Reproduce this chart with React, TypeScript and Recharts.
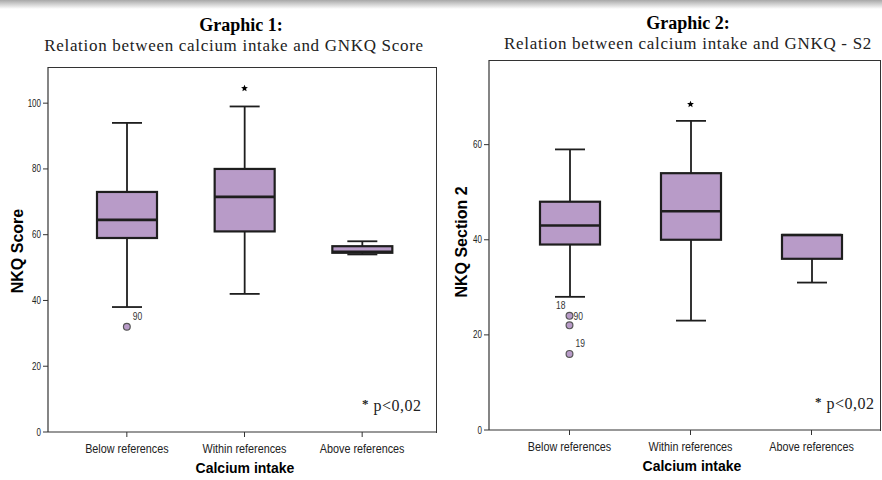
import React from 'react';
import { ComposedChart, Bar, Line, XAxis, YAxis } from 'recharts';

const CATEGORIES = ['Below references', 'Within references', 'Above references'];

// Graphic 1: GNKQ score
const G1_LOW = [38, 42, 54];
const G1_Q1 = [59, 61, 54.5];
const G1_MEDIAN = [64.5, 71.5, 54.8];
const G1_Q3 = [73, 80, 56.5];
const G1_HIGH = [94, 99, 58];
const G1_OUTLIERS = [[{ value: 32, id: '90' }], [], []];
const G1_EXTREMES = [null, 104.5, null];
const G1_TICKS = [0, 20, 40, 60, 80, 100];

// Graphic 2: GNKQ section 2
const G2_LOW = [28, 23, 31];
const G2_Q1 = [39, 40, 36];
const G2_MEDIAN = [43, 46, 41];
const G2_Q3 = [48, 54, 41];
const G2_HIGH = [59, 65, 41];
const G2_OUTLIERS = [
  [{ value: 24, id: '18' }, { value: 22, id: '90' }, { value: 16, id: '19' }],
  [],
  [],
];
const G2_EXTREMES = [null, 68.5, null];
const G2_TICKS = [0, 20, 40, 60];

const BOX_FILL = '#b89bc8';
const INK = '#1e1e1e';
const BOX_W = 60;
const CAP_W = 30;
const SERIF = '"Liberation Serif", "Times New Roman", serif';
const SANS = '"Liberation Sans", Arial, sans-serif';

// where each case-number label sits relative to its dot
const LABEL_OFFSET: Record<string, [number, number, 'start' | 'end']> = {
  'g1-90': [6, -7, 'start'],
  'g2-18': [-4, -7, 'end'],
  'g2-90': [4, -5, 'start'],
  'g2-19': [6, -7, 'start'],
};

type Outlier = { value: number; id: string };

function buildRows(
  low: number[], q1: number[], med: number[], q3: number[], high: number[],
  outliers: Outlier[][], extremes: (number | null)[]
) {
  return CATEGORIES.map((cat, i) => {
    const row: any = {
      cat,
      whisker: [low[i], high[i]],
      box: [q1[i], q3[i]],
      median: med[i],
      extreme: extremes[i],
    };
    for (let k = 0; k < 3; k++) {
      const o = outliers[i][k];
      row['out' + k] = o ? o.value : null;
      row['outId' + k] = o ? o.id : '';
    }
    return row;
  });
}

// condensed-looking tick text (SPSS uses a narrow sans)
const XTick = (props: any) => {
  const { x, y, payload } = props;
  return (
    <g transform={`translate(${x},${y})`}>
      <text transform="scale(0.8,1)" textAnchor="middle" dy="0.71em" fontSize={13.5} fontFamily={SANS} fill="#222">
        {payload.value}
      </text>
    </g>
  );
};

const YTick = (props: any) => {
  const { x, y, payload } = props;
  return (
    <g transform={`translate(${x},${y})`}>
      <text transform="scale(0.8,1)" textAnchor="end" dy="0.355em" fontSize={10} fontFamily={SANS} fill="#222">
        {payload.value}
      </text>
    </g>
  );
};

const WhiskerShape = (props: any) => {
  const { x, y, width, height } = props;
  if (y == null || height == null) return <g />;
  const cx = x + width / 2;
  return (
    <g stroke={INK} strokeWidth={1.8}>
      <line x1={cx} x2={cx} y1={y} y2={y + height} />
      <line x1={cx - CAP_W / 2} x2={cx + CAP_W / 2} y1={y} y2={y} />
      <line x1={cx - CAP_W / 2} x2={cx + CAP_W / 2} y1={y + height} y2={y + height} />
    </g>
  );
};

const BoxShape = (props: any) => {
  const { x, y, width, height } = props;
  if (y == null || height == null) return <g />;
  return <rect x={x} y={y} width={width} height={Math.max(height, 0.5)} fill={BOX_FILL} stroke={INK} strokeWidth={2.2} />;
};

const MedianDot = (props: any) => {
  const { cx, cy, index } = props;
  if (cy == null || isNaN(cy)) return <g key={'m' + index} />;
  return <line key={'m' + index} x1={cx - BOX_W / 2} x2={cx + BOX_W / 2} y1={cy} y2={cy} stroke={INK} strokeWidth={2.6} />;
};

const ExtremeDot = (props: any) => {
  const { cx, cy, index } = props;
  if (cy == null || isNaN(cy)) return <g key={'e' + index} />;
  const pts: string[] = [];
  for (let i = 0; i < 10; i++) {
    const r = i % 2 === 0 ? 3.6 : 1.6;
    const a = -Math.PI / 2 + (i * Math.PI) / 5;
    pts.push(`${cx + r * Math.cos(a)},${cy + r * Math.sin(a)}`);
  }
  return <polygon key={'e' + index} points={pts.join(' ')} fill="#000" />;
};

const makeOutlierDot = (k: number, prefix: string) => (props: any) => {
  const { cx, cy, index, payload } = props;
  if (cy == null || isNaN(cy) || payload['out' + k] == null) return <g key={'o' + k + index} />;
  const id = payload['outId' + k];
  const off = LABEL_OFFSET[prefix + '-' + id];
  return (
    <g key={'o' + k + index}>
      <circle cx={cx} cy={cy} r={3.4} fill={BOX_FILL} stroke="#555" strokeWidth={1.2} />
      {off && (
        <g transform={`translate(${cx + off[0]},${cy + off[1]})`}>
          <text transform="scale(0.85,1)" fontSize={10} fontFamily={SANS} fill="#333" textAnchor={off[2]}>
            {id}
          </text>
        </g>
      )}
    </g>
  );
};

interface PanelProps {
  prefix: string;
  rows: any[];
  left: number;
  domainMax: number;
  ticks: number[];
  margin: { top: number; right: number; bottom: number; left: number };
  padding: { left: number; right: number };
}

function BoxPanel({ prefix, rows, left, domainMax, ticks, margin, padding }: PanelProps) {
  const axisLine = { stroke: '#333', strokeWidth: 1.2 };
  const plotLeft = margin.left + 30;
  const plotRight = 441 - margin.right;
  const plotBottom = 480 - margin.bottom - 30;
  return (
    <div style={{ position: 'absolute', left, top: 0, width: 441, height: 480 }}>
      {/* top and right sides of the plot frame */}
      <div
        style={{
          position: 'absolute',
          left: plotLeft,
          top: margin.top,
          width: plotRight - plotLeft - 1,
          height: plotBottom - margin.top,
          borderTop: '1.2px solid #333',
          borderRight: '1.2px solid #333',
        }}
      />
      <div style={{ position: 'absolute', left: 0, top: 0 }}>
        <ComposedChart width={441} height={480} data={rows} margin={margin}>
          <XAxis
            xAxisId="main"
            dataKey="cat"
            type="category"
            padding={padding}
            height={30}
            axisLine={axisLine}
            tickLine={{ stroke: '#333' }}
            tickSize={5}
            tickMargin={6}
            tick={<XTick />}
            interval={0}
          />
          <XAxis xAxisId="whisk" dataKey="cat" type="category" padding={padding} hide />
          <YAxis
            yAxisId="y"
            type="number"
            domain={[0, domainMax]}
            ticks={ticks}
            width={30}
            axisLine={axisLine}
            tickLine={{ stroke: '#333' }}
            tickSize={5}
            tickMargin={2}
            tick={<YTick />}
          />
          <Bar xAxisId="whisk" yAxisId="y" dataKey="whisker" barSize={CAP_W} shape={<WhiskerShape />} isAnimationActive={false} />
          <Bar xAxisId="main" yAxisId="y" dataKey="box" barSize={BOX_W} shape={<BoxShape />} isAnimationActive={false} />
          <Line xAxisId="main" yAxisId="y" dataKey="median" stroke="none" dot={MedianDot} activeDot={false} isAnimationActive={false} />
          {[0, 1, 2].map((k) => (
            <Line
              key={k}
              xAxisId="main"
              yAxisId="y"
              dataKey={'out' + k}
              stroke="none"
              dot={makeOutlierDot(k, prefix)}
              activeDot={false}
              isAnimationActive={false}
            />
          ))}
          <Line xAxisId="main" yAxisId="y" dataKey="extreme" stroke="none" dot={ExtremeDot} activeDot={false} isAnimationActive={false} />
        </ComposedChart>
      </div>
    </div>
  );
}

const abs = (s: React.CSSProperties): React.CSSProperties => ({ position: 'absolute', whiteSpace: 'nowrap', ...s });

export default function App() {
  const rows1 = buildRows(G1_LOW, G1_Q1, G1_MEDIAN, G1_Q3, G1_HIGH, G1_OUTLIERS, G1_EXTREMES);
  const rows2 = buildRows(G2_LOW, G2_Q1, G2_MEDIAN, G2_Q3, G2_HIGH, G2_OUTLIERS, G2_EXTREMES);

  const title: React.CSSProperties = { fontFamily: SERIF, fontWeight: 'bold', fontSize: 18, color: '#000', textAlign: 'center' };
  const sub: React.CSSProperties = { fontFamily: SERIF, fontSize: 17, letterSpacing: 0.7, color: '#222', textAlign: 'center' };
  const xlab: React.CSSProperties = { fontFamily: SANS, fontWeight: 'bold', fontSize: 14, color: '#000', textAlign: 'center' };
  const ylab: React.CSSProperties = { fontFamily: SANS, fontWeight: 'bold', fontSize: 16, color: '#000', transform: 'translate(-50%, -50%) rotate(-90deg)' };
  const note: React.CSSProperties = { fontFamily: SERIF, fontSize: 16, letterSpacing: 0.5, color: '#222' };

  return (
    <div style={{ position: 'absolute', left: 0, top: 0, width: 882, height: 480, background: '#fff', overflow: 'hidden' }}>
      <div style={abs({ left: 0, top: 0, width: 882, height: 9, background: 'linear-gradient(#a8a8a8, #ffffff)' })} />

      <BoxPanel
        prefix="g1"
        rows={rows1}
        left={0}
        domainMax={111}
        ticks={G1_TICKS}
        margin={{ top: 67, right: 4, bottom: 18, left: 18 }}
        padding={{ left: 20, right: 16 }}
      />
      <BoxPanel
        prefix="g2"
        rows={rows2}
        left={441}
        domainMax={77.8}
        ticks={G2_TICKS}
        margin={{ top: 60, right: 1, bottom: 20, left: 18 }}
        padding={{ left: 20, right: 9 }}
      />

      <div style={abs({ ...title, left: 141, top: 15, width: 200 })}>Graphic 1:</div>
      <div style={abs({ ...sub, left: 34, top: 36, width: 400 })}>Relation between calcium intake and GNKQ Score</div>
      <div style={abs({ ...title, left: 588, top: 13, width: 200 })}>Graphic 2:</div>
      <div style={abs({ ...sub, left: 488, top: 34, width: 400 })}>Relation between calcium intake and GNKQ - S2</div>

      <div style={abs({ ...ylab, left: 18, top: 251 })}>NKQ Score</div>
      <div style={abs({ ...ylab, left: 462, top: 242 })}>NKQ Section 2</div>

      <div style={abs({ ...xlab, left: 145, top: 460, width: 200 })}>Calcium intake</div>
      <div style={abs({ ...xlab, left: 592, top: 458, width: 200 })}>Calcium intake</div>

      <div style={abs({ ...note, left: 362, top: 397 })}>
        <span style={{ fontWeight: 'bold', fontSize: 13, position: 'relative', top: -3 }}>*</span> p&lt;0,02
      </div>
      <div style={abs({ ...note, left: 815, top: 395 })}>
        <span style={{ fontWeight: 'bold', fontSize: 13, position: 'relative', top: -3 }}>*</span> p&lt;0,02
      </div>
    </div>
  );
}
